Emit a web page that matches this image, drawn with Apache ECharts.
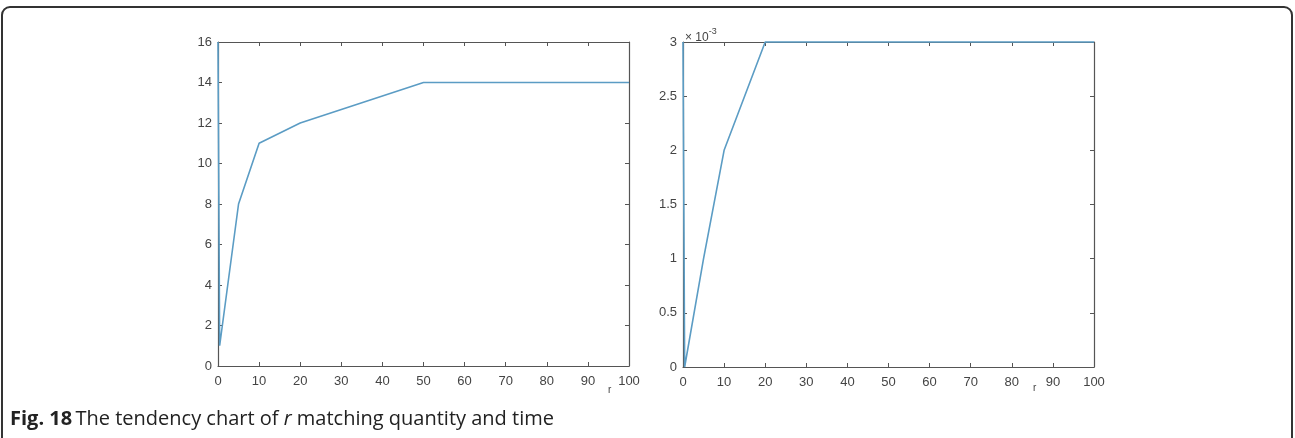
<!DOCTYPE html>
<html>
<head>
<meta charset="utf-8">
<script src="https://cdn.jsdelivr.net/npm/echarts@6/dist/echarts.min.js"></script>
<style>
  html, body { margin: 0; padding: 0; background: #fff; }
  #chart { width: 1295px; height: 438px; }
</style>
</head>
<body>
<div id="chart"></div>
<script>
// r values and the two measured curves
const rQuantity = [0, 0.4, 5, 10, 20, 50, 100]
const quantity = [16, 1, 8, 11, 12, 14, 14]
const rTime = [0, 0.4, 5, 10, 20, 100]
const time = [3, 0, 1, 2, 3, 3] // x 10^-3
const caption = 'The tendency chart of '

const lineColor = '#5b9cc4'
const axisColor = '#555'
const labelColor = '#444'

const chart = echarts.init(document.getElementById('chart'))

function xAxisPair (grid) {
  const base = {
    type: 'value',
    gridIndex: grid,
    min: 0,
    max: 100,
    interval: 10,
    axisLine: { show: true, onZero: false, lineStyle: { color: axisColor, width: 1.2 } },
    axisTick: { show: true, inside: true, length: 4, lineStyle: { color: axisColor } },
    splitLine: { show: false }
  }
  return [
    Object.assign({}, base, {
      position: 'bottom',
      axisLabel: { color: labelColor, fontSize: 13, fontFamily: 'Liberation Sans', margin: 9 }
    }),
    Object.assign({}, base, { position: 'top', axisLabel: { show: false } })
  ]
}

function yAxisPair (grid, max, interval) {
  const base = {
    type: 'value',
    gridIndex: grid,
    min: 0,
    max: max,
    interval: interval,
    axisLine: { show: true, onZero: false, lineStyle: { color: axisColor, width: 1.2 } },
    axisTick: { show: true, inside: true, length: 4, lineStyle: { color: axisColor } },
    splitLine: { show: false }
  }
  return [
    Object.assign({}, base, {
      position: 'left',
      axisLabel: { color: labelColor, fontSize: 13, fontFamily: 'Liberation Sans', margin: 6 }
    }),
    Object.assign({}, base, { position: 'right', axisLabel: { show: false } })
  ]
}

chart.setOption({
  animation: false,
  grid: [
    { left: 218, top: 42, width: 411, height: 324 },
    { left: 683, top: 42, width: 411, height: 325 }
  ],
  xAxis: [...xAxisPair(0), ...xAxisPair(1)],
  yAxis: [...yAxisPair(0, 16, 2), ...yAxisPair(1, 3, 0.5)],
  series: [
    {
      type: 'line',
      xAxisIndex: 0,
      yAxisIndex: 0,
      data: rQuantity.map((r, i) => [r, quantity[i]]),
      showSymbol: false,
      clip: false,
      z: 5,
      lineStyle: { color: lineColor, width: 1.6 }
    },
    {
      type: 'line',
      xAxisIndex: 2,
      yAxisIndex: 2,
      data: rTime.map((r, i) => [r, time[i]]),
      showSymbol: false,
      clip: false,
      z: 5,
      lineStyle: { color: lineColor, width: 1.6 }
    }
  ],
  graphic: [
    {
      type: 'rect',
      shape: { x: 2, y: 7, width: 1290, height: 440, r: 8 },
      style: { fill: 'none', stroke: '#333', lineWidth: 2 },
      silent: true
    },
    {
      type: 'text', left: 608, top: 385,
      style: { text: 'r', fill: labelColor, font: '10px "Liberation Sans"' }
    },
    {
      type: 'text', left: 1033, top: 383,
      style: { text: 'r', fill: labelColor, font: '10px "Liberation Sans"' }
    },
    {
      type: 'text', left: 685, top: 27,
      style: {
        text: '{a|× 10}{b|-3}',
        rich: {
          a: { fill: labelColor, fontSize: 12, fontFamily: 'Liberation Sans', padding: [6, 0, 0, 0] },
          b: { fill: labelColor, fontSize: 9, fontFamily: 'Liberation Sans', padding: [0, 0, 6, 0] }
        }
      }
    },
    {
      type: 'text', left: 10, top: 409,
      style: {
        text: '{b|Fig. 18} {n|' + caption + '}{i|r}{n| matching quantity and time}',
        rich: {
          b: { fill: '#222', fontSize: 20, fontWeight: 'bold', fontFamily: 'Open Sans' },
          n: { fill: '#222', fontSize: 20, fontFamily: 'Open Sans' },
          i: { fill: '#222', fontSize: 20, fontStyle: 'italic', fontFamily: 'Open Sans' }
        }
      }
    }
  ]
})
</script>
</body>
</html>
